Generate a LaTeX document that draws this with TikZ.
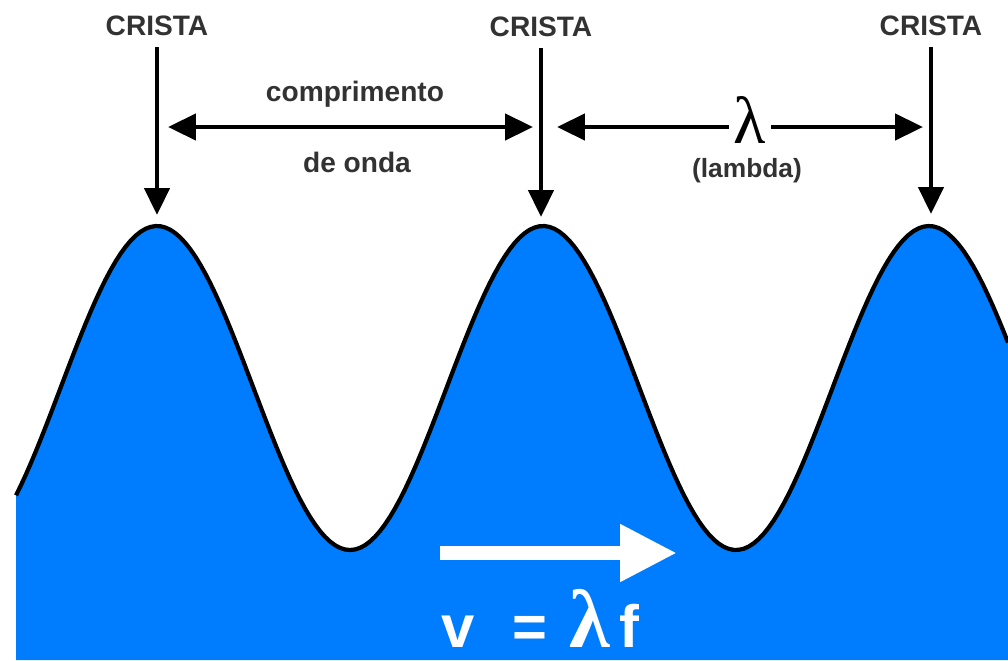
\documentclass[tikz,border=0pt]{standalone}
\usepackage{fontspec}
\setmainfont{Liberation Sans}
\newfontfamily\lamfont{Liberation Serif}
\usepackage{tikz}
\usetikzlibrary{arrows.meta, positioning}
\definecolor{azulonda}{RGB}{0,125,255}
\definecolor{cinzatexto}{RGB}{50,50,50}

\begin{document}
\begin{tikzpicture}[
    x=0.02cm, y=-0.02cm,
    rotulo/.style={font=\fontsize{16}{16}\selectfont\bfseries, text=cinzatexto, inner sep=0pt},
    seta/.style={line width=2.6pt, -{Triangle[length=0.54cm, width=0.5cm]}},
    dupla/.style={line width=2.6pt, {Triangle[length=0.56cm, width=0.52cm]}-{Triangle[length=0.56cm, width=0.52cm]}},
    letra/.style={font=\lamfont\fontsize{38}{38}\selectfont, inner sep=3pt, fill=white},
    formula/.style={font=\fontsize{34}{34}\selectfont\bfseries, text=white, inner sep=0pt, anchor=base, text depth=0pt},
    lamformula/.style={formula, font=\lamfont\fontsize{47}{47}\selectfont\bfseries},
    velocidade/.style={line width=8pt, white, -{Triangle[length=1.14cm, width=1.08cm]}}
]
    \useasboundingbox (0,0) rectangle (1008,660);

    % onda
    \fill[azulonda] (16,660) -- plot[domain=16:1008, samples=200] (\x, {388-162*cos(0.932642*(\x-157))}) -- (1008,660) -- cycle;
    \draw[line width=2.4pt, line join=round] plot[domain=16:1008, samples=200] (\x, {388-162*cos(0.932642*(\x-157))});

    % cristas
    \node[rotulo, anchor=base] (crista1) at (157,35) {CRISTA};
    \node[rotulo, anchor=base] (crista2) at (541,36) {CRISTA};
    \node[rotulo, anchor=base] (crista3) at (931,35) {CRISTA};
    \coordinate (topo1) at (157,47);
    \coordinate (topo2) at (541,48);
    \coordinate (topo3) at (931,47);
    \coordinate (pico1) at (157,215);
    \coordinate (pico2) at (541,217);
    \coordinate (pico3) at (931,214);
    \draw[seta] (topo1) -- (pico1);
    \draw[seta] (topo2) -- (pico2);
    \draw[seta] (topo3) -- (pico3);

    % comprimento de onda
    \coordinate (esq1) at (168,127);
    \coordinate (dir1) at (533,127);
    \coordinate (esq2) at (557,127);
    \coordinate (dir2) at (923,127);
    \draw[dupla] (esq1) -- (dir1);
    \draw[dupla] (esq2) -- (dir2);
    \node[rotulo, anchor=base] (comp) at (355,101) {comprimento};
    \node[rotulo, anchor=base] (onda) at (357,172) {de onda};
    \node[letra, anchor=base] (lam) at (750,143) {λ};
    \node[rotulo, anchor=base, font=\fontsize{15}{15}\selectfont\bfseries] (nome) at (747,177) {(lambda)};

    % velocidade
    \coordinate (vini) at (440,553);
    \coordinate (vfim) at (677,553);
    \draw[velocidade] (vini) -- (vfim);
    \node[formula] (vel) at (458,647) {v};
    \node[formula] (igual) at (530,647) {=};
    \node[lamformula] (lamb) at (590,647) {λ};
    \node[formula] (freq) at (629,647) {f};
\end{tikzpicture}
\end{document}
